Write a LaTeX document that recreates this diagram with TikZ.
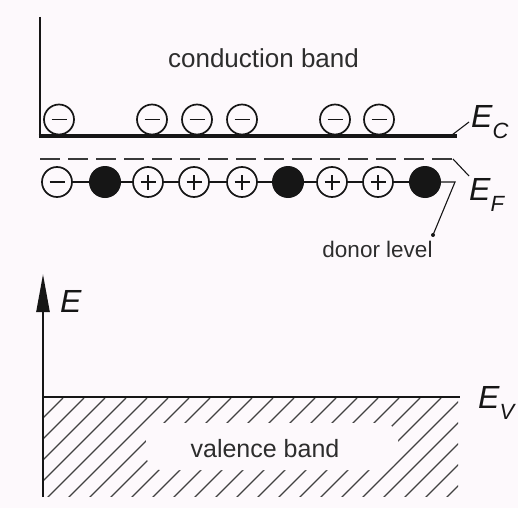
\documentclass[tikz,border=0pt]{standalone}
\usepackage{fontspec}
\setmainfont{Liberation Sans}
\usetikzlibrary{arrows.meta}
\definecolor{bg}{RGB}{253,249,252}
\definecolor{ink}{RGB}{22,22,22}
\definecolor{txt}{RGB}{45,45,45}
\definecolor{hatch}{RGB}{65,65,65}
\tikzset{
  chg/.style={circle, draw=ink, line width=1.7pt, fill=bg, minimum size=30pt, inner sep=0pt},
  elec/.style={chg, path picture={\draw[ink, line width=1.7pt]
     ([xshift=-7.5pt]path picture bounding box.center) -- ([xshift=7.5pt]path picture bounding box.center);}},
  hole/.style={chg, path picture={\draw[ink, line width=1.7pt]
     ([xshift=-7.5pt]path picture bounding box.center) -- ([xshift=7.5pt]path picture bounding box.center)
     ([yshift=-7.5pt]path picture bounding box.center) -- ([yshift=7.5pt]path picture bounding box.center);}},
  donor/.style={circle, fill=ink, minimum size=32pt, inner sep=0pt},
  bandtext/.style={text=txt, anchor=base, inner sep=0pt},
  elabel/.style={text=ink, anchor=base west, inner sep=0pt, font=\fontsize{32}{32}\selectfont\itshape},
  leader/.style={ink, line width=1.1pt},
}
\newcommand{\subl}[1]{\raisebox{-0.36em}{\fontsize{22}{22}\selectfont #1}}
\begin{document}
\begin{tikzpicture}[x=1pt, y=-1pt]
  \fill[bg] (0,0) rectangle (518,508);
  \useasboundingbox (0,0) rectangle (518,508);

  % ---------- conduction band ----------
  \coordinate (ctop) at (40,17);
  \coordinate (ccorner) at (40,135.5);
  \coordinate (cend) at (457,135.5);
  \draw[ink, line width=2.6pt] (ctop) -- (ccorner);
  \draw[ink, line width=4pt] ([xshift=-1.3pt]ccorner) -- (cend);
  \node[bandtext, font=\fontsize{26}{26}\selectfont] (cb) at (263.5,68) {conduction band};

  \foreach \n/\x in {1/59, 2/152, 3/197, 4/242, 5/335, 6/379}
    \node[elec] (e\n) at (\x,119.5) {};

  \node[elabel] (EC) at (471,127) {E\subl{C}};
  \coordinate (ECl) at (452,135);
  \draw[leader] (ECl) -- (469,122);

  % ---------- Fermi level (dashed) ----------
  \coordinate (fstart) at (40,159);
  \coordinate (fend) at (453,159);
  \draw[ink!85, line width=1.9pt, dash pattern=on 20pt off 8pt] (fstart) -- (fend);
  \node[elabel] (EF) at (469,200) {E\subl{F}};
  \draw[leader] (fend) -- (469,176);

  % ---------- donor level ----------
  \node[elec]  (d1) at (57,182) {};
  \node[donor] (d2) at (105,182) {};
  \node[hole]  (d3) at (148,182) {};
  \node[hole]  (d4) at (194,182) {};
  \node[hole]  (d5) at (242,182) {};
  \node[donor] (d6) at (288,182) {};
  \node[hole]  (d7) at (332,182) {};
  \node[hole]  (d8) at (378,182) {};
  \node[donor] (d9) at (425,182) {};
  \draw[ink, line width=1.4pt] (d1) -- (d2) -- (d3) -- (d4) -- (d5) -- (d6) -- (d7) -- (d8) -- (d9);

  \coordinate (dk) at (455,182);
  \coordinate (dtip) at (433,235);
  \draw[leader] (d9.east) -- (dk) -- (dtip);
  \fill[ink] (dtip) circle (2pt);
  \node[bandtext, font=\fontsize{22.5}{22.5}\selectfont] (dl) at (377.5,257) {donor level};

  % ---------- valence band ----------
  \begin{scope}
    \clip (43,398) rectangle (458,496);
    \foreach \i in {-100,-79,...,470}
      \draw[hatch, line width=1.1pt] (\i,498) -- (\i+100,398);
  \end{scope}
  \fill[bg, rounded corners=16pt] (146,423) rectangle (398,470);
  \node[bandtext, font=\fontsize{25}{25}\selectfont] (vb) at (265,457) {valence band};

  \coordinate (vleft) at (43,397);
  \coordinate (vend) at (460,397);
  \draw[ink, line width=2.8pt] (vleft) -- (vend);
  \node[elabel] (EV) at (478,408) {E\subl{V}};

  % ---------- energy axis ----------
  \coordinate (abot) at (43,497);
  \coordinate (atop) at (43,274);
  \draw[ink, line width=2.4pt, -{Triangle[length=38pt, width=13pt]}] (abot) -- (atop);
  \node[elabel] (Eax) at (60,312) {E};
\end{tikzpicture}
\end{document}
